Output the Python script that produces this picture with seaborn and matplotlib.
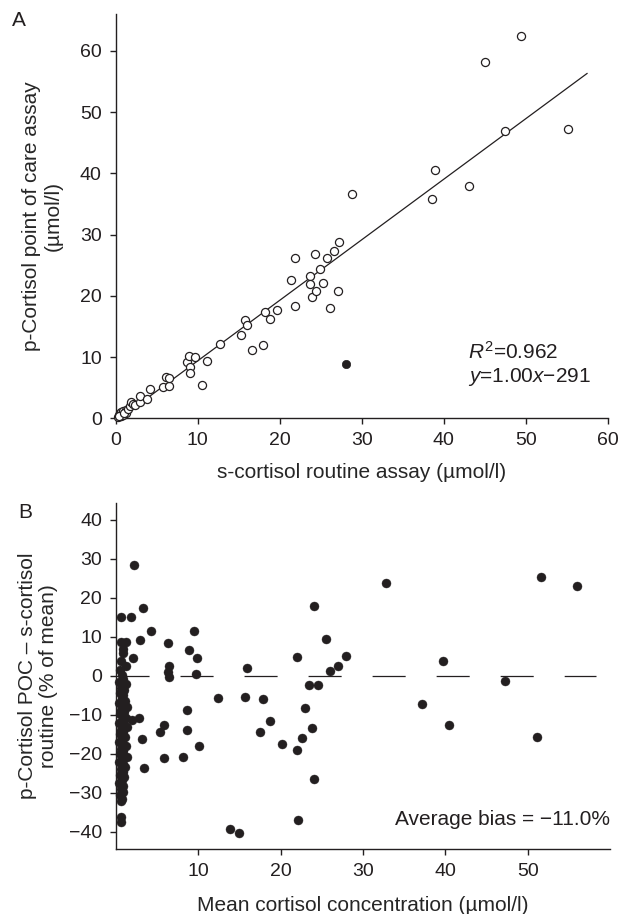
import numpy as np
import pandas as pd
import seaborn as sns
import matplotlib
matplotlib.use("Agg")
import matplotlib.pyplot as plt

# Panel A: point-of-care vs routine assay (umol/l), open circles
routine_open = [0.3, 0.4, 0.5, 0.6, 0.5, 0.7, 0.8, 0.9, 0.7, 1.0, 1.1, 1.2, 0.9, 1.3, 0.4,
                1.06, 1.46, 1.75, 1.91, 2.15, 2.35, 2.97, 3.0, 3.82, 4.15, 5.81, 6.46, 6.14, 6.54,
                8.7, 8.98, 9.72, 9.02, 9.0, 11.1, 10.57, 12.72, 15.28, 15.77, 16.06, 16.59, 17.93,
                18.25, 18.82, 19.72,
                21.34, 21.83, 21.87, 23.66, 23.74, 23.94, 24.35, 24.39, 24.88, 25.33, 25.8, 26.1,
                26.67, 27.11, 27.24, 28.8,
                38.57, 38.98, 43.05, 45.0, 47.48, 49.39, 55.16]
poc_open = [0.2, 0.5, 0.3, 0.6, 0.8, 0.4, 0.7, 0.5, 1.0, 0.8, 1.1, 0.9, 1.2, 1.3, 0.3,
            0.92, 1.58, 1.96, 2.6, 2.28, 2.17, 2.7, 3.64, 3.1, 4.73, 5.16, 5.33, 6.74, 6.58,
            9.24, 10.1, 10.0, 8.3, 7.4, 9.3, 5.5, 12.07, 13.6, 16.1, 15.2, 11.14, 11.96,
            17.3, 16.25, 17.6,
            22.5, 26.2, 18.4, 23.15, 21.9, 19.78, 26.8, 20.76, 24.3, 22.07, 26.1, 18.0,
            27.3, 20.8, 28.7, 36.6,
            35.8, 40.5, 37.88, 58.1, 46.85, 62.4, 47.17]
# the single filled (excluded) sample
routine_excl = [28.13]
poc_excl = [8.9]

# regression line as drawn
fit_slope = 0.988
fit_intercept = -0.5
fit_x = [0.5, 57.5]

# Panel B: Bland-Altman, mean (umol/l) vs difference (% of mean)
ba_mean = [0.5, 0.7, 0.9, 0.4, 0.8, 1.2, 0.6, 1.0, 0.5, 0.9, 0.7, 1.1, 0.4, 0.8, 1.3, 0.6, 1.0,
           0.5, 0.9, 1.2, 0.7, 0.4, 1.0, 1.3, 0.6, 0.9, 0.5, 1.1, 0.7, 0.4, 0.9, 1.2, 0.6, 0.8,
           0.5, 1.0, 0.7, 0.4, 0.9, 1.1, 0.6, 0.8, 0.5, 1.0, 0.7, 0.4, 0.9, 0.6, 0.8, 0.5, 0.7,
           0.57, 1.8, 3.22, 2.16, 4.29, 2.86, 0.65, 1.27, 0.86, 0.85, 2.12, 0.65, 1.27,
           6.37, 6.49, 6.33, 6.45, 8.9, 9.51, 9.88, 9.67, 12.4, 15.96, 15.63, 17.8, 18.7, 17.55,
           20.2, 22.0, 21.96, 22.6, 22.9, 23.75, 24.0, 24.0, 23.5, 24.57, 22.16, 13.88, 14.94,
           8.61, 8.57, 10.12, 8.08, 5.88, 5.35, 5.8, 2.78, 1.96, 3.1, 3.35, 1.39, 0.65, 0.61, 0.65,
           32.75, 25.55, 27.94, 26.96, 25.99, 37.2, 39.76, 40.45, 47.2, 51.58, 51.17, 55.95]
ba_diff = [1.5, 0.3, -0.8, -1.5, -2.2, -2.0, -3.0, -3.6, -4.4, -5.0, -5.8, -6.4, -7.0, -7.6, -8.0,
           -8.7, -9.3, -9.9, -10.4, -10.9, -11.6, -12.2, -12.7, -13.2, -13.8, -14.4, -15.0, -15.6,
           -16.2, -16.9, -17.5, -18.0, -18.7, -19.3, -20.0, -20.6, -21.3, -22.0, -22.6, -23.3,
           -24.0, -24.7, -25.4, -26.0, -26.8, -27.5, -28.2, -29.0, -29.8, -30.6, -31.5,
           15.1, 15.1, 17.3, 28.4, 11.5, 9.3, 8.8, 8.8, 6.8, 5.8, 4.7, 3.7, 2.5,
           8.45, 2.6, 1.1, -0.26, 6.75, 11.6, 4.6, 0.6, -5.6, 1.9, -5.5, -6.0, -11.6, -14.3,
           -17.4, 4.9, -19.1, -16.0, -8.2, -13.4, 17.9, -26.4, -2.4, -2.4, -36.9, -39.2, -40.3,
           -8.8, -13.8, -18.0, -20.7, -12.6, -14.3, -21.1, -10.7, -11.4, -16.1, -23.7, -20.7,
           -36.2, -37.5, -32.0,
           23.7, 9.4, 5.0, 2.5, 1.2, -7.26, 3.93, -12.7, -1.3, 25.3, -15.6, 23.1]
zero_line_x = [0, 58.3]

W, H = 621, 914
FS = 15
TICK_FS = 14
INK = '#231f20'


def style():
    sns.set_style("ticks")
    plt.rcParams['font.family'] = ['Liberation Sans', 'DejaVu Sans']
    plt.rcParams['mathtext.fontset'] = 'custom'
    plt.rcParams['mathtext.rm'] = 'Liberation Sans'
    plt.rcParams['mathtext.it'] = 'Liberation Sans:italic'
    plt.rcParams['lines.scale_dashes'] = False
    plt.rcParams['axes.linewidth'] = 1.0
    plt.rcParams['axes.edgecolor'] = INK
    plt.rcParams['text.color'] = INK


def finish_axes(ax):
    sns.despine(ax=ax)
    ax.tick_params(length=4.5, width=1.0, pad=5.5, labelsize=TICK_FS, colors=INK)
    ax.set_facecolor('white')


def plot_agreement(ax):
    df_open = pd.DataFrame({'routine': routine_open, 'poc': poc_open})
    df_excl = pd.DataFrame({'routine': routine_excl, 'poc': poc_excl})
    fit = pd.DataFrame({'x': fit_x})
    fit['y'] = fit_slope * fit['x'] + fit_intercept

    sns.lineplot(data=fit, x='x', y='y', ax=ax, color=INK, linewidth=0.9, zorder=2)
    sns.scatterplot(data=df_open, x='routine', y='poc', ax=ax, s=34, marker='o',
                    facecolor='white', edgecolor=INK, linewidth=0.9, zorder=3, clip_on=False)
    sns.scatterplot(data=df_excl, x='routine', y='poc', ax=ax, s=36, color=INK,
                    edgecolor=INK, linewidth=0.5, zorder=3)

    ax.set_xlim(0, 60)
    ax.set_ylim(0, 66)
    ax.set_xticks(range(0, 61, 10))
    ax.set_yticks(range(0, 61, 10))
    ax.set_xlabel('s-cortisol routine assay (\u00b5mol/l)', fontsize=FS)
    ax.set_ylabel('p-Cortisol point of care assay\n(\u00b5mol/l)', fontsize=FS, linespacing=1.15)
    ax.xaxis.set_label_coords(0.5, -0.135)
    ax.xaxis.label.set_va('center')
    ax.yaxis.set_label_coords(-0.149, 0.5)
    ax.yaxis.label.set_va('center')
    ax.text(0.716, 0.165, r'$R^2$=0.962', transform=ax.transAxes, fontsize=FS, va='center')
    ax.text(0.716, 0.103, r'$y$=1.00$x$' + '\u2212291', transform=ax.transAxes,
            fontsize=FS, va='center')
    finish_axes(ax)


def plot_bias(ax):
    df = pd.DataFrame({'mean': ba_mean, 'diff': ba_diff})
    ax.plot(zero_line_x, [0, 0], color=INK, linewidth=0.9, dashes=(23.8, 22.3), zorder=1)
    sns.scatterplot(data=df, x='mean', y='diff', ax=ax, s=42, color=INK,
                    edgecolor=INK, linewidth=0.3, zorder=3, clip_on=False)

    ax.set_xlim(0, 60)
    ax.set_ylim(-44.4, 44.4)
    ax.set_xticks(range(10, 51, 10))
    ax.set_yticks(range(-40, 41, 10))
    ax.set_xlabel('Mean cortisol concentration (\u00b5mol/l)', fontsize=FS)
    ax.set_ylabel('p-Cortisol POC \u2013 s-cortisol\nroutine (% of mean)', fontsize=FS, linespacing=1.15)
    ax.xaxis.set_label_coords(0.5, -0.162)
    ax.xaxis.label.set_va('center')
    ax.yaxis.set_label_coords(-0.158, 0.5)
    ax.yaxis.label.set_va('center')
    ax.text(1.0, 0.084, 'Average bias = \u221211.0%', transform=ax.transAxes, fontsize=FS,
            ha='right', va='center')
    finish_axes(ax)


if __name__ == "__main__":
    style()
    fig = plt.figure(figsize=(W / 100, H / 100), dpi=100)
    ax_a = fig.add_axes([115.7 / W, 1 - 418.3 / H, 492 / W, 404.3 / H])
    ax_b = fig.add_axes([116 / W, 1 - 849 / H, 494 / W, 346.3 / H])

    plot_agreement(ax_a)
    plot_bias(ax_b)

    fig.text(18.5 / W, 1 - 20 / H, 'A', fontsize=FS, ha='center', va='center')
    fig.text(25 / W, 1 - 513 / H, 'B', fontsize=FS, ha='center', va='center')

    fig.savefig('out.png', dpi=100)
